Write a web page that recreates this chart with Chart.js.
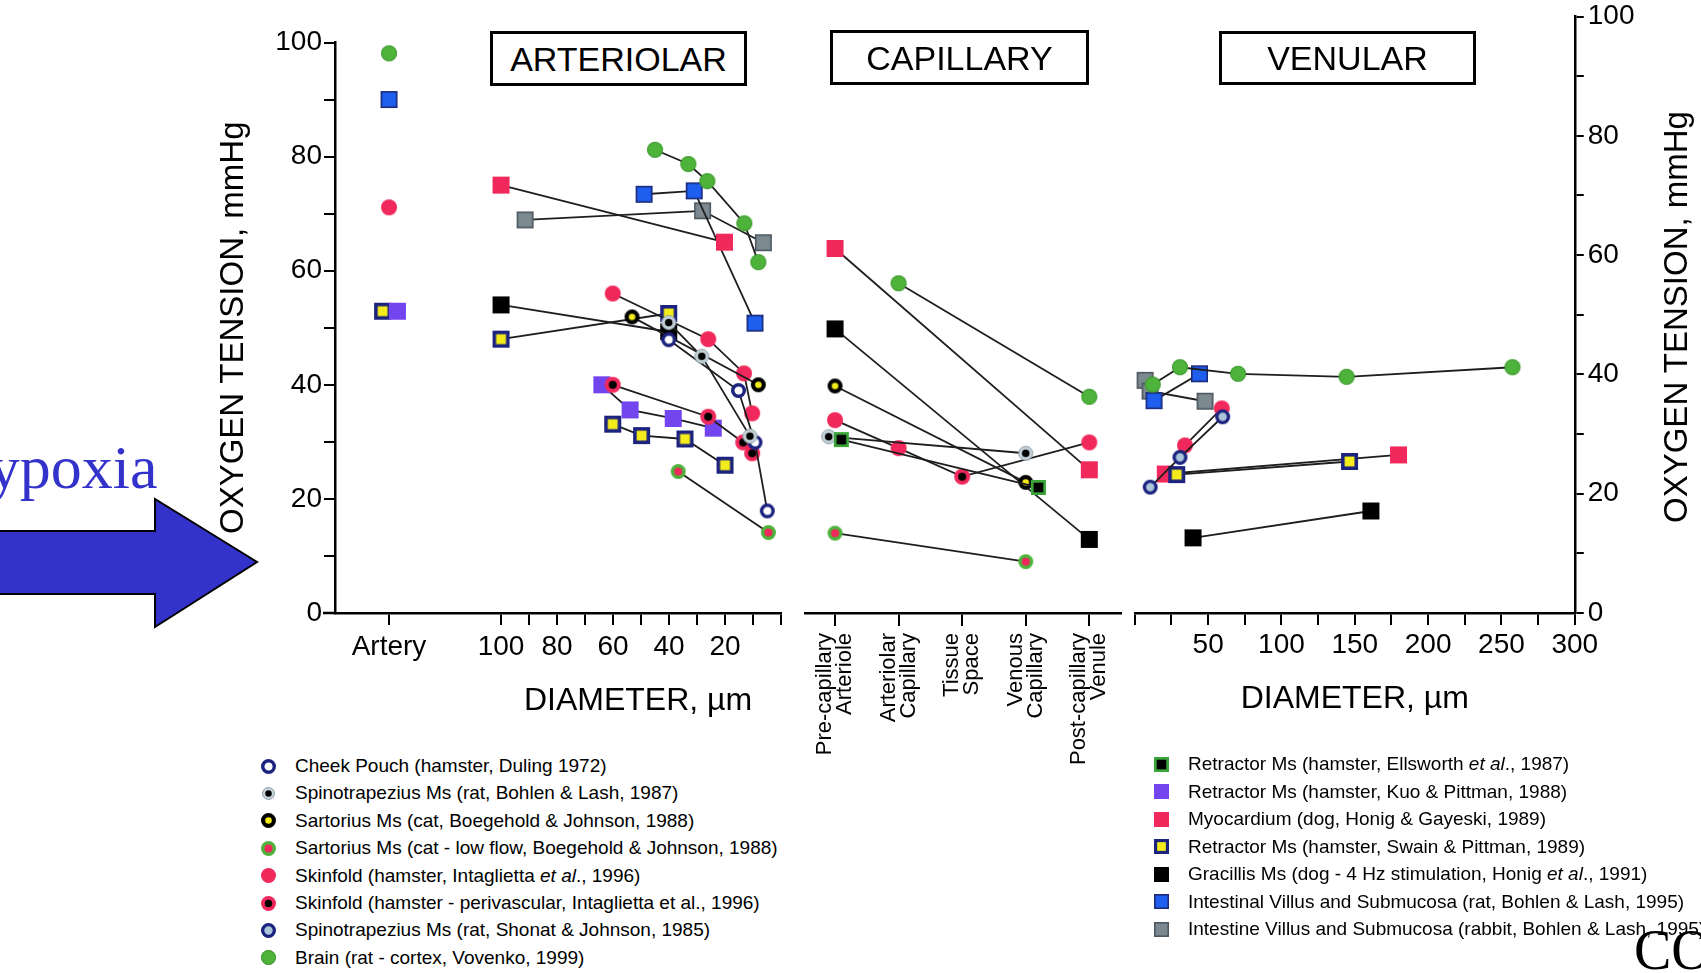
<!DOCTYPE html>
<html><head><meta charset="utf-8">
<script src="https://cdn.jsdelivr.net/npm/chart.js"></script>
<style>
html,body{margin:0;padding:0;background:#fff;}
#wrap{position:relative;width:1701px;height:973px;overflow:hidden;background:#fff;font-family:"Liberation Sans",Arial,Helvetica,sans-serif;color:#000;}
canvas.chart{position:absolute;top:0;}
.box{position:absolute;box-sizing:border-box;border:3.5px solid #000;display:flex;align-items:center;justify-content:center;font-size:34px;line-height:1;background:#fff;}
.row{position:absolute;white-space:nowrap;height:28px;line-height:28px;font-size:19px;}
.row canvas{position:absolute;}
.row span{position:absolute;top:0;}
.atitle{position:absolute;height:40px;line-height:40px;text-align:center;white-space:nowrap;}
</style></head>
<body>
<div id="wrap">
  <canvas id="c1" class="chart" width="800" height="740" style="left:0px"></canvas>
  <canvas id="c2" class="chart" width="420" height="790" style="left:760px"></canvas>
  <canvas id="c3" class="chart" width="601" height="740" style="left:1100px"></canvas>

  <div class="box" style="left:490px;top:31px;width:257px;height:55px;">ARTERIOLAR</div>
  <div class="box" style="left:830px;top:30px;width:259px;height:55px;">CAPILLARY</div>
  <div class="box" style="left:1219px;top:31px;width:257px;height:54px;">VENULAR</div>

  <div class="atitle" style="left:438px;top:679px;width:400px;font-size:32px;">DIAMETER, µm</div>
  <div class="atitle" style="left:1426px;top:297px;width:500px;font-size:33px;transform:rotate(-90deg);">OXYGEN TENSION, mmHg</div>

  <svg style="position:absolute;left:0;top:0;" width="300" height="700">
    <polygon points="-5,531 155,531 155,499 257,562 155,627 155,594 -5,594" fill="#3333cc" stroke="#000" stroke-width="2"/>
  </svg>
  <div style="position:absolute;left:-56px;top:436px;font-family:'Liberation Serif','Times New Roman',serif;font-size:62px;line-height:62px;color:#3333cc;white-space:nowrap;">Hypoxia</div>

  <div id="legL"></div>
  <div id="legR"></div>

  <div style="position:absolute;left:1634px;top:922px;font-family:'Liberation Serif','Times New Roman',serif;font-size:56px;line-height:56px;color:#000;white-space:nowrap;">CO</div>
</div>

<script>
// ================= DATA =================
// Tick values / labels
const oxygenTicks = [0,10,20,30,40,50,60,70,80,90,100];
const oxygenTickLabels = [0,20,40,60,80,100];
const arteriolarTicks = [0,10,20,30,40,50,60,70,80,90,100,140];
const arteriolarTickLabels = {140:'Artery',100:'100',80:'80',60:'60',40:'40',20:'20'};
const capillaryCategories = [['Pre-capillary','Arteriole'],['Arteriolar','Capillary'],['Tissue','Space'],['Venous','Capillary'],['Post-capillary','Venule']];
const venularTicks = [0,25,50,75,100,125,150,175,200,225,250,275,300];
const venularTickLabels = [50,100,150,200,250,300];

// Arteriolar panel: [diameter µm, PO2 mmHg]; the "Artery" column sits at position 140
const arteryBrain  = [[140, 98.1]];
const arteryVillus = [[140, 90.0]];
const arterySkin   = [[140, 71.1]];
const arterySwain  = [[142.3, 52.9]];
const arteryKuo    = [[137.0, 52.9]];

const artCheek   = [[40.1,47.9],[15.2,39.0],[9.3,29.9],[4.9,17.9]];
const artSpinoB  = [[40.1,50.9],[28.3,45.0],[11.1,31.0]];
const artSartC   = [[53.2,51.9],[8.1,40.0]];
const artSartLow = [[36.7,24.8],[4.5,14.1]];
const artSkin    = [[60.1,56.0],[26.0,48.0],[13.2,42.0],[10.3,35.0]];
const artSkinP   = [[60.1,40.0],[26.0,34.4],[13.5,29.9],[10.3,28.0]];
const artBrain   = [[45.0,81.2],[33.1,78.7],[26.3,75.7],[13.1,68.3],[8.1,61.5]];
const artKuo     = [[64.0,40.0],[53.9,35.6],[38.5,34.1],[24.2,32.4]];
const artMyo     = [[100,75.0],[20.2,65.0]];
const artSwainA  = [[100,48.0],[40.1,52.5]];
const artSwainB  = [[60.1,33.1],[49.8,31.1],[34.3,30.5],[20.0,25.9]];
const artGrac    = [[100,54.0],[40.1,49.3]];
const artVillus  = [[48.9,73.4],[31.0,74.0],[9.3,50.8]];
const artRabbit  = [[91.4,68.9],[28.0,70.5],[6.3,64.9]];

// Capillary panel: [category index, PO2 mmHg]
const capMyo     = [[0,63.9],[4,25.1]];
const capBrain   = [[1,57.8],[4,37.9]];
const capGrac    = [[0,49.8],[4,12.9]];
const capSartC   = [[0,39.8],[3,22.9]];
const capSkin    = [[0,33.8],[1,28.9],[2,23.9],[4,29.9]];
const capSpinoB  = [[-0.1,30.9],[3,28.0]];
const capElls    = [[0.1,30.4],[3.2,22.0]];
const capSartLow = [[0,14.0],[3,9.0]];

// Venular panel: [diameter µm, PO2 mmHg]
const venBrain   = [[12.2,38.3],[30.8,41.2],[70.4,40.1],[144.4,39.6],[257.5,41.2]];
const venVillus  = [[13.1,35.6],[44.1,40.1]];
const venRabbit  = [[7.0,39.0],[10.4,37.2],[47.9,35.5]];
const venSkin    = [[34.2,28.1],[59.3,34.3]];
const venSpinoS  = [[10.5,21.1],[30.8,26.1],[59.9,32.9]];
const venMyo     = [[20.8,23.3],[179.8,26.5]];
const venSwain   = [[28.6,23.2],[146.4,25.4]];
const venGrac    = [[39.7,12.6],[161.0,17.1]];

const legendLeft = [
  ['cheek','Cheek Pouch (hamster, Duling 1972)'],
  ['spinoB','Spinotrapezius Ms (rat, Bohlen &amp; Lash, 1987)'],
  ['sartC','Sartorius Ms (cat, Boegehold &amp; Johnson, 1988)'],
  ['sartLow','Sartorius Ms (cat - low flow, Boegehold &amp; Johnson, 1988)'],
  ['skin','Skinfold (hamster, Intaglietta <i>et al</i>., 1996)'],
  ['skinP','Skinfold (hamster - perivascular, Intaglietta et al., 1996)'],
  ['spinoS','Spinotrapezius Ms (rat, Shonat &amp; Johnson, 1985)'],
  ['brain','Brain (rat - cortex, Vovenko, 1999)']
];
const legendRight = [
  ['ells','Retractor Ms (hamster, Ellsworth <i>et al</i>., 1987)'],
  ['kuo','Retractor Ms (hamster, Kuo &amp; Pittman, 1988)'],
  ['myo','Myocardium (dog, Honig &amp; Gayeski, 1989)'],
  ['swain','Retractor Ms (hamster, Swain &amp; Pittman, 1989)'],
  ['grac','Gracillis Ms (dog - 4 Hz stimulation, Honig <i>et al</i>., 1991)'],
  ['villus','Intestinal Villus and Submucosa (rat, Bohlen &amp; Lash, 1995)'],
  ['rabbit','Intestine Villus and Submucosa (rabbit, Bohlen &amp; Lash, 1995)']
];

// ================= STYLE =================
const FONT = '"Liberation Sans", Arial, Helvetica, sans-serif';
const GREEN = '#4db33b', RED = '#f1285b', NAVY = '#1c237f', YELLOW = '#f3eb1b',
      PURPLE = '#7345ee', BLUE = '#1f5ff0';

function marker(kind, s) {
  const c = document.createElement('canvas');
  const W = Math.ceil(s + 4);
  c.width = W; c.height = W;
  const g = c.getContext('2d');
  const m = W / 2, r = s / 2;
  const circ = (rad, fill, stroke, lw) => {
    g.beginPath(); g.arc(m, m, rad, 0, Math.PI * 2);
    if (fill) { g.fillStyle = fill; g.fill(); }
    if (stroke) { g.lineWidth = lw; g.strokeStyle = stroke; g.stroke(); }
  };
  const sq = (half, fill, stroke, lw) => {
    if (fill) { g.fillStyle = fill; g.fillRect(m - half, m - half, 2 * half, 2 * half); }
    if (stroke) { g.lineWidth = lw; g.strokeStyle = stroke; g.strokeRect(m - half + lw / 2, m - half + lw / 2, 2 * half - lw, 2 * half - lw); }
  };
  switch (kind) {
    case 'cheek': { const lw = s * 0.23; circ(r - lw / 2, '#ffffff', NAVY, lw); break; }
    case 'spinoB': circ(r - 0.5, '#c6d3da', '#8d9ea8', 1); circ(s * 0.25, '#000'); break;
    case 'sartC': { const lw = s * 0.28; circ(r - lw / 2, YELLOW, '#000', lw); break; }
    case 'sartLow': circ(r, GREEN); circ(s * 0.27, RED); break;
    case 'skin': circ(r, RED); break;
    case 'skinP': circ(r, RED); circ(s * 0.25, '#000'); break;
    case 'spinoS': { const lw = s * 0.22; circ(r - lw / 2, '#aac6d8', NAVY, lw); break; }
    case 'brain': circ(r, GREEN); circ(r - 0.5, null, 'rgba(40,120,30,0.5)', 1); break;
    case 'ells': sq(r, '#000', '#3aa639', s * 0.18); break;
    case 'kuo': sq(r, PURPLE); break;
    case 'myo': sq(r, RED); break;
    case 'swain': sq(r, YELLOW, NAVY, s * 0.21); break;
    case 'grac': sq(r, '#000'); break;
    case 'villus': sq(r, BLUE, '#1b2a78', 1.6); break;
    case 'rabbit': sq(r, '#7d8991', '#4e5860', 1.6); break;
  }
  return c;
}
const SIZE = {cheek:15, spinoB:15, sartC:15, sartLow:15, skin:16, skinP:16, spinoS:15, brain:16,
              ells:15, kuo:17, myo:17, swain:17, grac:17, villus:17, rabbit:17};
const IMG = {};
Object.keys(SIZE).forEach(k => IMG[k] = marker(k, SIZE[k]));

function series(points, kind, line = true, styleOverride) {
  return {
    data: points.map(p => ({x: p[0], y: p[1]})),
    showLine: line,
    borderColor: '#1e1e1e',
    borderWidth: 1.8,
    pointStyle: styleOverride || IMG[kind],
    pointRadius: SIZE[kind] / 2,
    pointHoverRadius: SIZE[kind] / 2,
    tension: 0,
    fill: false,
    clip: false
  };
}

const tickFont = {family: FONT, size: 28, lineHeight: 0.75};
const gridOpts = (len) => ({drawOnChartArea: false, drawTicks: true, tickLength: len, color: '#000', lineWidth: 2});
const borderOpts = {display: true, color: '#000', width: 2.5};
const baseOpts = {
  responsive: false, animation: false, devicePixelRatio: 1, events: [],
  plugins: {legend: {display: false}, tooltip: {enabled: false}}
};
const yLabel = v => (oxygenTickLabels.includes(v) ? String(v) : '');

const axisExtend = {
  id: 'axisExtend',
  afterDraw(chart) {
    const {ctx, chartArea: a} = chart;
    ctx.save(); ctx.strokeStyle = '#000'; ctx.lineWidth = 2.5;
    ctx.beginPath(); ctx.moveTo(a.left - 12, a.bottom); ctx.lineTo(a.left + 1, a.bottom); ctx.stroke();
    ctx.restore();
  }
};

// ================= PANEL 1: ARTERIOLAR =================
new Chart(document.getElementById('c1'), {
  type: 'scatter',
  data: {datasets: [
    series(artSpinoB, 'spinoB'), series(artCheek, 'cheek'), series(artSartC, 'sartC'),
    series(artSkinP, 'skinP'), series(artSkin, 'skin'), series(artSartLow, 'sartLow'),
    series(artBrain, 'brain'), series(artSwainA, 'swain'), series(artSwainB, 'swain'),
    series(artKuo, 'kuo'), series(artMyo, 'myo'), series(artGrac, 'grac'),
    series(artVillus, 'villus'), series(artRabbit, 'rabbit'),
    series(arteryBrain, 'brain', false), series(arteryVillus, 'villus', false),
    series(arterySkin, 'skin', false), series(arteryKuo, 'kuo', false), series(arterySwain, 'swain', false)
  ]},
  options: Object.assign({}, baseOpts, {
    layout: {padding: {left: 200, top: 42.5, right: 19, bottom: 0}},
    scales: {
      x: {
        type: 'linear', reverse: true, min: 0, max: 159.3,
        afterBuildTicks: s => { s.ticks = arteriolarTicks.map(v => ({value: v})); },
        afterFit: s => { s.height = 740 - 613; },
        ticks: {autoSkip: false, maxRotation: 0, minRotation: 0, padding: 5, color: '#000',
                font: {family: FONT, size: 28, lineHeight: 1.2},
                callback: v => (arteriolarTickLabels[v] !== undefined ? arteriolarTickLabels[v] : '')},
        grid: gridOpts(12), border: borderOpts
      },
      y: {
        type: 'linear', min: 0, max: 100,
        afterBuildTicks: s => { s.ticks = oxygenTicks.map(v => ({value: v})); },
        afterFit: s => { s.width = 135; },
        ticks: {autoSkip: false, padding: 2, color: '#000', font: tickFont, callback: yLabel},
        grid: gridOpts(11), border: borderOpts,
        title: {display: true, text: 'OXYGEN TENSION, mmHg', color: '#000',
                font: {family: FONT, size: 33, lineHeight: 1.2}, padding: {top: 14, bottom: 0}}
      }
    }
  }),
  plugins: [axisExtend]
});

// ================= PANEL 2: CAPILLARY =================
new Chart(document.getElementById('c2'), {
  type: 'scatter',
  data: {datasets: [
    series(capElls, 'ells'), series(capSpinoB, 'spinoB'), series(capSartC, 'sartC'),
    series(capSkin, 'skin', true, [IMG.skin, IMG.skin, IMG.skinP, IMG.skin]),
    series(capSartLow, 'sartLow'), series(capBrain, 'brain'), series(capMyo, 'myo'),
    series(capGrac, 'grac')
  ]},
  options: Object.assign({}, baseOpts, {
    layout: {padding: {left: 45, top: 42.5, right: 59, bottom: 0}},
    scales: {
      x: {
        type: 'linear', min: -0.472, max: 4.499,
        afterBuildTicks: s => { s.ticks = capillaryCategories.map((c, i) => ({value: i})); },
        afterFit: s => { s.height = 790 - 613; },
        ticks: {autoSkip: false, minRotation: 90, maxRotation: 90, padding: 7, labelOffset: -9.9,
                color: '#000', font: {family: FONT, size: 22, lineHeight: 0.9},
                callback: v => (capillaryCategories[v] || '')},
        grid: gridOpts(13), border: borderOpts
      },
      y: {type: 'linear', min: 0, max: 100, display: false}
    }
  })
});

// ================= PANEL 3: VENULAR =================
new Chart(document.getElementById('c3'), {
  type: 'scatter',
  data: {datasets: [
    series(venSpinoS, 'spinoS'), series(venSkin, 'skin'), series(venBrain, 'brain'),
    series(venVillus, 'villus'), series(venSwain, 'swain'), series(venMyo, 'myo'),
    series(venGrac, 'grac'), series(venRabbit, 'rabbit')
  ]},
  options: Object.assign({}, baseOpts, {
    layout: {padding: {left: 34.8, top: 16.5, right: 0, bottom: 0}},
    scales: {
      x: {
        type: 'linear', min: 0, max: 300,
        afterBuildTicks: s => { s.ticks = venularTicks.map(v => ({value: v})); },
        afterFit: s => { s.height = 740 - 613; },
        ticks: {autoSkip: false, maxRotation: 0, minRotation: 0, padding: 3, color: '#000',
                font: {family: FONT, size: 28, lineHeight: 1.2},
                callback: v => (venularTickLabels.includes(v) ? String(v) : '')},
        grid: gridOpts(12), border: borderOpts,
        title: {display: true, text: 'DIAMETER, µm', color: '#000',
                font: {family: FONT, size: 32, lineHeight: 1.2}, padding: {top: 0, bottom: 22}}
      },
      y: {
        type: 'linear', position: 'right', min: 0, max: 100,
        afterBuildTicks: s => { s.ticks = oxygenTicks.map(v => ({value: v})); },
        afterFit: s => { s.width = 126.2; },
        ticks: {autoSkip: false, padding: 4, color: '#000', font: tickFont, callback: yLabel},
        grid: gridOpts(9), border: borderOpts
      }
    }
  })
});

// ================= LEGENDS =================
function buildLegend(id, entries, markerX, textX, y0, dy) {
  const host = document.getElementById(id);
  entries.forEach((e, i) => {
    const row = document.createElement('div');
    row.className = 'row';
    const yc = y0 + i * dy;
    row.style.left = '0px'; row.style.top = (yc - 14) + 'px';
    const mk = marker(e[0], e[0] === 'spinoB' ? 13 : 15);
    mk.style.left = (markerX - mk.width / 2) + 'px';
    mk.style.top = (14 - mk.height / 2) + 'px';
    row.appendChild(mk);
    const sp = document.createElement('span');
    sp.innerHTML = e[1];
    sp.style.left = textX + 'px';
    row.appendChild(sp);
    host.appendChild(row);
  });
}
buildLegend('legL', legendLeft, 268, 295, 766, 27.4);
buildLegend('legR', legendRight, 1161, 1188, 764, 27.5);
</script>
</body></html>
